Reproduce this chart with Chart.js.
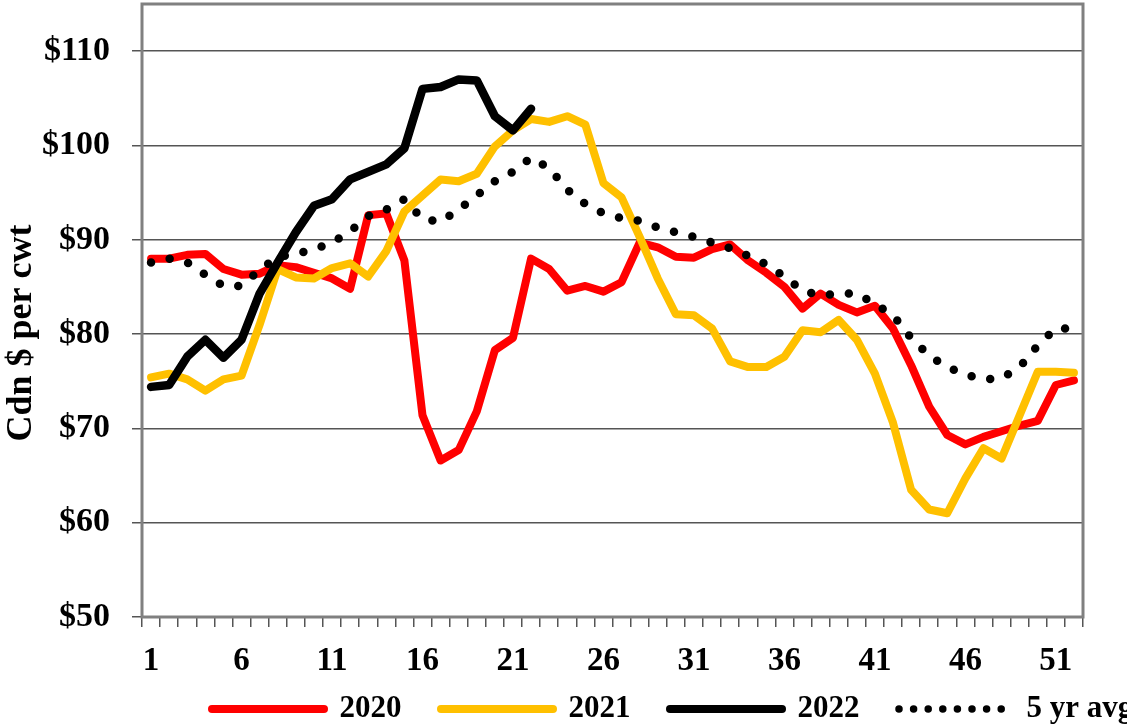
<!DOCTYPE html>
<html>
<head>
<meta charset="utf-8">
<script src="https://cdn.jsdelivr.net/npm/chart.js@4.4.1/dist/chart.umd.min.js"></script>
<style>
html,body{margin:0;padding:0;background:#fff;}
#wrap{width:1127px;height:728px;position:relative;}
</style>
</head>
<body>
<div id="wrap"><canvas id="c"></canvas></div>
<script>
// ---- data ----
const weeks = ['1','2','3','4','5','6','7','8','9','10','11','12','13','14','15','16','17','18','19','20','21','22','23','24','25','26','27','28','29','30','31','32','33','34','35','36','37','38','39','40','41','42','43','44','45','46','47','48','49','50','51','52'];
const xTickLabels = ['1','6','11','16','21','26','31','36','41','46','51'];
const yTickValues = [50,60,70,80,90,100,110];
const seriesNames = ['2020','2021','2022','5 yr avg'];
const prices2020 = [88.0,88.0,88.4,88.5,86.9,86.3,86.4,87.3,87.1,86.5,85.9,84.8,92.6,92.8,87.8,71.4,66.6,67.7,71.8,78.3,79.6,88.0,86.9,84.6,85.1,84.5,85.5,89.7,89.2,88.2,88.1,89.0,89.5,87.8,86.5,85.0,82.7,84.3,83.1,82.3,83.0,80.6,76.7,72.3,69.3,68.3,69.1,69.7,70.3,70.8,74.6,75.1];
const prices2021 = [75.4,75.8,75.2,74.0,75.2,75.6,81.0,86.9,86.0,85.9,87.0,87.5,86.1,88.8,93.0,94.7,96.4,96.2,97.0,99.9,101.6,102.8,102.5,103.1,102.2,96.0,94.5,90.3,85.9,82.1,82.0,80.6,77.1,76.5,76.5,77.6,80.4,80.2,81.5,79.4,75.8,70.6,63.5,61.4,61.0,64.7,67.9,66.8,71.4,76.0,76.0,75.9];
const prices2022 = [74.4,74.6,77.6,79.4,77.5,79.4,84.3,87.6,90.8,93.6,94.3,96.4,97.2,98.0,99.7,106.0,106.2,107.0,106.9,103.1,101.6,103.9];
const avg5yr = [87.6,88.0,87.6,86.3,85.1,85.1,86.8,88.2,88.5,89.0,89.7,90.9,92.5,93.2,94.3,92.2,91.9,93.2,94.7,96.2,97.2,98.7,97.6,95.3,93.8,92.8,92.3,92.0,91.3,90.8,90.3,89.7,89.1,88.3,87.4,86.1,84.6,84.1,84.3,84.3,83.2,82.0,79.6,77.7,76.5,75.7,75.2,75.3,76.5,78.8,80.6,80.6];

// ---- styling ----
const FONT = "'Liberation Serif','Times New Roman',serif";
Chart.defaults.font.family = FONT;
Chart.defaults.font.weight = 'bold';
Chart.defaults.color = '#000';

const framePlugin = {
  id: 'frame',
  beforeDatasetsDraw(chart) {
    const a = chart.chartArea, ctx = chart.ctx;
    ctx.save();
    ctx.strokeStyle = '#808080';
    ctx.lineWidth = 3;
    ctx.strokeRect(a.left, a.top, a.right - a.left, a.bottom - a.top);
    ctx.restore();
  }
};
const legendPlacePlugin = {
  id: 'legendPlace',
  afterLayout(chart) {
    const lg = chart.legend;
    lg.left = 172.5;
    lg.right = 1600;
    lg.width = lg.right - lg.left;
    lg.top = 654;
    lg.bottom = 728;
    lg.height = 74;
  }
};

new Chart(document.getElementById('c'), {
  type: 'line',
  data: {
    labels: weeks,
    datasets: [
      {label: seriesNames[0], data: prices2020, borderColor: '#FF0000', backgroundColor: '#FF0000', borderWidth: 8, order: 3},
      {label: seriesNames[1], data: prices2021, borderColor: '#FFC000', backgroundColor: '#FFC000', borderWidth: 8, order: 2},
      {label: seriesNames[2], data: prices2022, borderColor: '#000000', backgroundColor: '#000000', borderWidth: 8.5, order: 1},
      {label: seriesNames[3], data: avg5yr, borderColor: '#000000', backgroundColor: '#000000', borderWidth: 8.5, borderDash: [0, 19], order: 0}
    ]
  },
  plugins: [framePlugin, legendPlacePlugin],
  options: {
    responsive: true,
    maintainAspectRatio: false,
    animation: false,
    devicePixelRatio: 1,
    layout: {padding: {top: 4, right: 44, left: 0, bottom: 0}},
    elements: {
      point: {radius: 0, hoverRadius: 0},
      line: {tension: 0, borderCapStyle: 'round', borderJoinStyle: 'round', fill: false}
    },
    plugins: {
      tooltip: {enabled: false},
      legend: {
        position: 'bottom',
        align: 'start',
        maxHeight: 36,
        labels: {
          usePointStyle: true,
          pointStyle: 'line',
          pointStyleWidth: 112,
          padding: 39.5,
          font: {size: 31, weight: 'bold', family: FONT},
          color: '#000',
          generateLabels(chart) {
            const items = Chart.defaults.plugins.legend.labels.generateLabels(chart);
            items.sort((p, q) => p.datasetIndex - q.datasetIndex);
            items.forEach(it => {
              it.lineCap = 'round';
              if (it.datasetIndex === 3) { it.lineDash = [0, 14.6]; it.lineWidth = 7.5; }
              else { it.lineDash = []; it.lineWidth = 8; }
            });
            return items;
          }
        }
      }
    },
    scales: {
      x: {
        type: 'category',
        offset: true,
        grid: {offset: true, drawOnChartArea: false, drawTicks: true, tickLength: 10, tickColor: '#555', lineWidth: 1.5},
        border: {display: false},
        ticks: {
          autoSkip: false, maxRotation: 0, minRotation: 0, padding: 15,
          font: {size: 33, weight: 'bold', family: FONT}, color: '#000',
          callback(value) { const l = this.getLabelForValue(value); return xTickLabels.includes(l) ? l : ''; }
        },
        afterFit(scale) { scale.height = 75; scale.paddingLeft = 0; scale.paddingRight = 0; }
      },
      y: {
        min: 50, max: 115,
        grid: {color: '#555', lineWidth: 1.5, drawTicks: true, tickLength: 10, tickColor: '#555'},
        border: {display: false},
        afterBuildTicks(scale) { scale.ticks = yTickValues.map(v => ({value: v})); },
        ticks: {
          padding: 22,
          font: {size: 34, weight: 'bold', family: FONT}, color: '#000',
          callback(value) { return '$' + value; }
        },
        title: {
          display: true,
          text: 'Cdn $ per cwt     ',
          padding: 0,
          font: {size: 36, weight: 'bold', family: FONT}, color: '#000'
        },
        afterFit(scale) { scale.width = 142; scale.paddingTop = 0; scale.paddingBottom = 0; }
      }
    }
  }
});
</script>
</body>
</html>
